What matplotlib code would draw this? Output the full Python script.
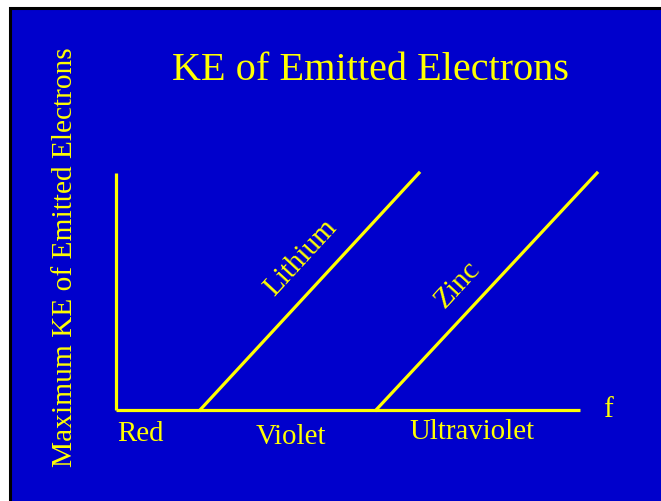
import matplotlib
matplotlib.use("Agg")
import matplotlib.pyplot as plt
from matplotlib.patches import Rectangle

# frequency / KE in arbitrary units
f_axis = [0.0, 4.64]
ke_axis = [0.0, 2.37]
metals = ["Lithium", "Zinc"]
metal_f = [[0.84, 3.03], [2.60, 4.81]]
metal_ke = [[0.0, 2.37], [0.0, 2.37]]
regions = ["Red", "Violet", "Ultraviolet"]
region_x = [0.24, 1.75, 3.56]
region_y = [-0.31, -0.34, -0.29]

BLUE = "#0000CC"
YELLOW = "#FFFF00"
plt.rcParams['font.family'] = ['Liberation Serif', 'DejaVu Serif']

fig = plt.figure(figsize=(6.61, 5.01), dpi=100, facecolor="white")
fig.patches.append(Rectangle((10 / 661, -0.05), 1.1, 1 - 8 / 501 + 0.05,
                             transform=fig.transFigure, facecolor=BLUE,
                             edgecolor="black", lw=2.2, zorder=-5))

ax = fig.add_axes([116 / 661, 91 / 501, 545 / 661, 410 / 501])
ax.set_zorder(2)
ax.patch.set_alpha(0)
ax.set_xlim(0, 5.45)
ax.set_ylim(0, 4.10)
ax.axis("off")

lw = 2.3
ax.plot(f_axis, [0, 0], color=YELLOW, lw=lw, solid_capstyle="butt", clip_on=False)
ax.plot([0, 0], ke_axis, color=YELLOW, lw=lw, solid_capstyle="butt", clip_on=False)
for fs, ks in zip(metal_f, metal_ke):
    ax.plot(fs, ks, color=YELLOW, lw=lw, clip_on=False)

label_pos = [(1.85, 1.52), (3.42, 1.25)]
for name, (x, y) in zip(metals, label_pos):
    ax.text(x, y, name, color=YELLOW, fontsize=21, rotation=47.3,
            ha="center", va="center", rotation_mode="anchor")

for name, x, y in zip(regions, region_x, region_y):
    ax.text(x, y, name, color=YELLOW, fontsize=20.8, ha="center", va="baseline")

ax.text(4.92, -0.07, "f", color=YELLOW, fontsize=21, ha="center", va="baseline")

fig.text(0.56, 1 - 80 / 501, "KE of Emitted Electrons", color=YELLOW,
         fontsize=29, ha="center", va="baseline", zorder=3)
fig.text(0.098, 1 - 257 / 501, "Maximum KE of Emitted Electrons", color=YELLOW,
         fontsize=21.2, rotation=90, ha="center", va="center", zorder=3)

fig.savefig("out.png", dpi=100, facecolor="white")
